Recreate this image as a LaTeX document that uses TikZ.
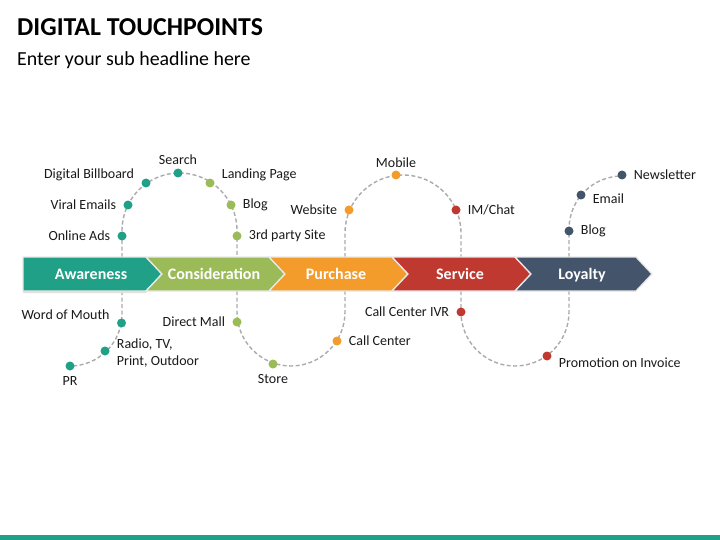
\documentclass[tikz,border=0pt]{standalone}
\usepackage{fontspec}
\setmainfont{Carlito}
\usetikzlibrary{positioning,calc}

\definecolor{aware}{RGB}{32,161,135}
\definecolor{consid}{RGB}{155,187,89}
\definecolor{purch}{RGB}{243,156,43}
\definecolor{serv}{RGB}{192,57,48}
\definecolor{loyal}{RGB}{68,84,106}
\definecolor{trailgray}{RGB}{170,170,170}
\definecolor{txt}{RGB}{25,25,25}

\tikzset{
  dot/.style={circle, fill=#1, inner sep=0pt, minimum size=9pt},
  lbl/.style={inner sep=1pt, font=\fontsize{14}{17}\selectfont, text=txt},
  trail/.style={trailgray, line width=1.4pt, dash pattern=on 4pt off 2.5pt},
  stagebox/.style={fill=#1, draw=white!82!gray, line width=1.3pt, line join=miter},
  stagetext/.style={anchor=base, text=white, font=\fontsize{16}{18}\selectfont\bfseries}
}

\begin{document}
\begin{tikzpicture}[x=1pt, y=-1pt]
  \useasboundingbox (0,0) rectangle (720,540);
  % title
  \node[anchor=base west, inner sep=0pt, font=\fontsize{25.8}{28}\selectfont\bfseries] (title) at (17,36) {DIGITAL TOUCHPOINTS};
  \node[anchor=base west, inner sep=0pt, font=\fontsize{19.9}{22}\selectfont] (subtitle) at (17,66) {Enter your sub headline here};

  % dashed trail
  \draw[trail] (122,257) -- (122,230.5) arc[start angle=180, end angle=360, radius=57.5] -- (237,257);
  \draw[trail] (122,291) -- (122,314) arc[start angle=0, end angle=90, radius=52];
  \draw[trail] (237,291) -- (237,312) arc[start angle=180, end angle=0, radius=54] -- (345,291);
  \draw[trail] (345,257) -- (345,233) arc[start angle=180, end angle=360, radius=58] -- (461,257);
  \draw[trail] (461,291) -- (461,312) arc[start angle=180, end angle=0, radius=54] -- (569,291);
  \draw[trail] (569,257) -- (569,229) arc[start angle=180, end angle=270, radius=53];

  % stages
  \fill[black!12] (23,259) -- (146,259) -- (162,276) -- (146,293) -- (23,293) -- cycle;
  \draw[stagebox=aware] (23,257) -- (146,257) -- (162,274) -- (146,291) -- (23,291) -- cycle;
  \draw[stagebox=consid] (146,257) -- (269,257) -- (285,274) -- (269,291) -- (146,291) -- (162,274) -- cycle;
  \draw[stagebox=purch] (269,257) -- (392,257) -- (408,274) -- (392,291) -- (269,291) -- (285,274) -- cycle;
  \draw[stagebox=serv] (392,257) -- (515,257) -- (531,274) -- (515,291) -- (392,291) -- (408,274) -- cycle;
  \draw[stagebox=loyal] (515,257) -- (636,257) -- (652,274) -- (636,291) -- (515,291) -- (531,274) -- cycle;
  \node[stagetext] (awareness) at (91,279.5) {Awareness};
  \node[stagetext] (consideration) at (214,279.5) {Consideration};
  \node[stagetext] (purchase) at (336,279.5) {Purchase};
  \node[stagetext] (service) at (460,279.5) {Service};
  \node[stagetext] (loyalty) at (582,279.5) {Loyalty};

  % awareness touchpoints
  \node[dot=aware] (oads) at (122,236) {};
  \node[dot=aware] (viral) at (128,205) {};
  \node[dot=aware] (billboard) at (146,183) {};
  \node[dot=aware] (search) at (178,173) {};
  \node[dot=aware] (mouth) at (121.5,323) {};
  \node[dot=aware] (radio) at (105,351) {};
  \node[dot=aware] (pr) at (70,366) {};
  \node[lbl, left=6pt of oads] {Online Ads};
  \node[lbl, left=6pt of viral] {Viral Emails};
  \node[lbl, left=6pt of billboard, yshift=8pt] {Digital Billboard};
  \node[lbl, above=2pt of search] {Search};
  \node[lbl, left=6pt of mouth, yshift=8pt] {Word of Mouth};
  \node[lbl, right=6pt of radio, yshift=-2pt, align=left] {Radio, TV,\\Print, Outdoor};
  \node[lbl, below=5pt of pr] {PR};

  % consideration touchpoints
  \node[dot=consid] (landing) at (210,183) {};
  \node[dot=consid] (blogc) at (231,205) {};
  \node[dot=consid] (party) at (237,236) {};
  \node[dot=consid] (mall) at (237,322) {};
  \node[dot=consid] (store) at (273,364) {};
  \node[lbl, right=6pt of landing, yshift=8pt] {Landing Page};
  \node[lbl, right=6pt of blogc] {Blog};
  \node[lbl, right=6pt of party] {3rd party Site};
  \node[lbl, left=6pt of mall] {Direct Mall};
  \node[lbl, below=5pt of store] {Store};

  % purchase touchpoints
  \node[dot=purch] (website) at (349,210) {};
  \node[dot=purch] (mobile) at (396,175) {};
  \node[dot=purch] (callc) at (337,341) {};
  \node[lbl, left=6pt of website] {Website};
  \node[lbl, above=2pt of mobile] {Mobile};
  \node[lbl, right=6pt of callc] {Call Center};

  % service touchpoints
  \node[dot=serv] (chat) at (456,210) {};
  \node[dot=serv] (ivr) at (461,312) {};
  \node[dot=serv] (promo) at (547,356) {};
  \node[lbl, right=6pt of chat] {IM/Chat};
  \node[lbl, left=6pt of ivr] {Call Center IVR};
  \node[lbl, right=6pt of promo, yshift=-7pt] {Promotion on Invoice};

  % loyalty touchpoints
  \node[dot=loyal] (blogl) at (569,231) {};
  \node[dot=loyal] (email) at (581,195) {};
  \node[dot=loyal] (news) at (622,175) {};
  \node[lbl, right=6pt of blogl] {Blog};
  \node[lbl, right=6pt of email, yshift=-4pt] {Email};
  \node[lbl, right=6pt of news] {Newsletter};

  % bottom bar
  \fill[aware] (0,535) rectangle (720,540);
\end{tikzpicture}
\end{document}
